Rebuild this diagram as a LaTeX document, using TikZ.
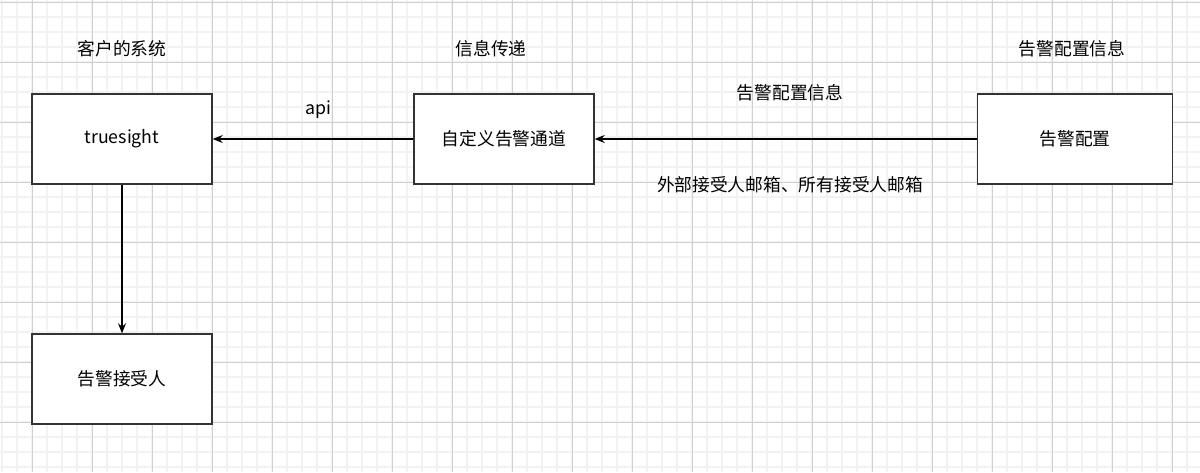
\documentclass[tikz,border=0pt]{standalone}
\usepackage{fontspec}
\setmainfont{Noto Sans CJK SC}
\usetikzlibrary{arrows.meta}
\definecolor{gridminor}{RGB}{242,242,242}
\definecolor{gridmajor}{RGB}{208,208,208}
\tikzset{
  blockbox/.style={draw=black!80,line width=1.1pt,fill=white,minimum width=135pt,minimum height=67.5pt,inner sep=0pt},
  flowarrow/.style={-{Stealth[length=7.5pt,width=6pt,inset=2.5pt]},line width=0.8pt},
  lbl/.style={font=\fontsize{13.3}{16}\selectfont,inner sep=0pt}
}

\begin{document}
\begin{tikzpicture}[x=0.75pt,y=-0.75pt]
\useasboundingbox (0,0) rectangle (1200,472);
\fill[white] (0,0) rectangle (1200,472);
% grid
\foreach \x in {2,17,...,1200}{ \draw[gridminor,line width=0.9pt] (\x,0) -- (\x,472); }
\foreach \y in {2,17,...,472}{ \draw[gridminor,line width=0.9pt] (0,\y) -- (1200,\y); }
\foreach \x in {32,92,...,1200}{ \draw[gridmajor,line width=0.75pt] (\x,0) -- (\x,472); }
\foreach \y in {2,62,...,472}{ \draw[gridmajor,line width=0.75pt] (0,\y) -- (1200,\y); }
% column titles
\node[lbl] (ttlclient) at (122,49) {客户的系统};
\node[lbl] (ttlpass) at (491,49) {信息传递};
\node[lbl] (ttlconf) at (1072,49) {告警配置信息};
% boxes
\node[blockbox,lbl] (truesight) at (122,139) {truesight};
\node[blockbox,lbl] (channel) at (504,139) {自定义告警通道};
\node[blockbox,lbl,minimum width=146pt] (config) at (1075,139) {告警配置};
\node[blockbox,lbl] (receiver) at (122,379) {告警接受人};
% connectors
\draw[flowarrow] (config) -- (channel);
\draw[flowarrow] (channel) -- (truesight);
\draw[flowarrow] (truesight) -- (receiver);
% connector labels
\node[lbl] (lblapi) at (318,110) {api};
\node[lbl] (lblinfo) at (790,93) {告警配置信息};
\node[lbl] (lblmail) at (790,185) {外部接受人邮箱、所有接受人邮箱};
\end{tikzpicture}
\end{document}
